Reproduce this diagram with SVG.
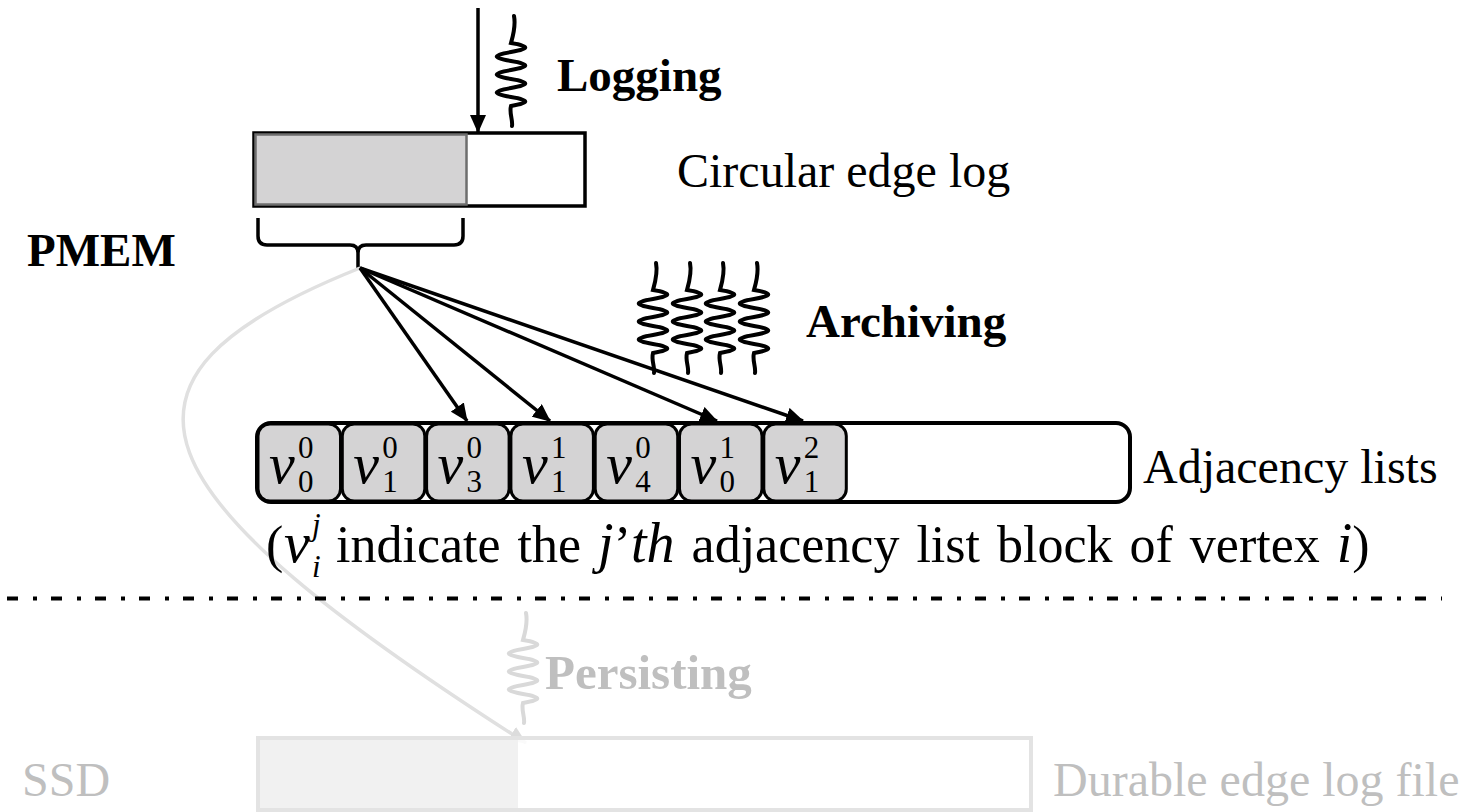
<svg xmlns="http://www.w3.org/2000/svg" xmlns:xlink="http://www.w3.org/1999/xlink" width="1466" height="812" viewBox="0 0 1466 812">
  <style>
    .lbl { font-family: "Liberation Serif", "Times New Roman", serif; font-size: 48px; fill: #000; }
    .bold { font-weight: bold; font-size: 47px; }
    .faint { fill: #bfbfbf; }
    .note { font-size: 52px; word-spacing: 4px; }
    .math { font-family: "Liberation Serif", "Times New Roman", serif; font-style: italic; fill: #000; }
    .digit { font-family: "Liberation Serif", "Times New Roman", serif; font-size: 31px; fill: #000; }
    .edge { fill: none; stroke: #000; stroke-width: 3.5; }
    .spring { fill: none; stroke: #000; stroke-width: 4; stroke-linecap: round; }
    .cell { fill: #d4d3d4; stroke: #000; stroke-width: 3; }
  </style>
  <defs>
    <marker id="arrow" viewBox="0 0 18 16" refX="17" refY="8" markerWidth="18" markerHeight="16" markerUnits="userSpaceOnUse" orient="auto">
      <path d="M0,0 L18,8 L0,16 z" fill="#000"/>
    </marker>
    <marker id="arrowFaint" viewBox="0 0 18 16" refX="17" refY="8" markerWidth="18" markerHeight="16" markerUnits="userSpaceOnUse" orient="auto">
      <path d="M0,0 L18,8 L0,16 z" fill="#dcdcdc"/>
    </marker>
    <!-- wavy "thread" glyph: tail, seven half-waves, tail -->
    <path id="spring" d="M3 0 C5 10 2 20 0 27 c19 3 19 6 0 9 c-19 3 -19 6 0 9 c19 3 19 6 0 9 c-19 3 -19 6 0 9 c19 3 19 6 0 9 c-19 3 -19 6 0 9 c19 3 19 6 0 9 c-2 7 2 14 1 20"/>
  </defs>

  <!-- PMEM side -->
  <g id="pmem-label">
    <text class="lbl bold" x="27" y="266">PMEM</text>
  </g>

  <g id="circular-log">
    <rect x="254" y="133" width="331" height="73" fill="#fff" stroke="#000" stroke-width="3.5"/>
    <rect x="255.5" y="134.5" width="211" height="70" fill="#d4d3d4" stroke="#6e6e6e" stroke-width="2.5"/>
    <text class="lbl" x="677" y="187">Circular edge log</text>
  </g>

  <g id="logging">
    <use xlink:href="#spring" class="spring" transform="translate(511,16)"/>
    <text class="lbl bold" x="557" y="91">Logging</text>
  </g>

  <g id="archiving">
    <use xlink:href="#spring" class="spring" transform="translate(653,263)"/>
    <use xlink:href="#spring" class="spring" transform="translate(687,263)"/>
    <use xlink:href="#spring" class="spring" transform="translate(720,263)"/>
    <use xlink:href="#spring" class="spring" transform="translate(754,263)"/>
    <text class="lbl bold" x="806" y="337">Archiving</text>
  </g>

  <g id="brace">
    <path class="edge" d="M258 218 V236 Q258 245 267 245 H350 Q358 245 358 253 V268 M358 253 Q358 245 366 245 H454 Q463 245 463 236 V218"/>
  </g>

  <!-- durable copy on SSD, drawn before the log so the box covers the arrow tip -->
  <g id="persist-connector">
    <path d="M360 268 C80 380 130 490 526 743" fill="none" stroke="#e0e0e0" stroke-width="3.5" marker-end="url(#arrowFaint)"/>
  </g>

  <g id="adjacency-lists">
    <rect x="257" y="423" width="873" height="79" rx="14" fill="#fff" stroke="#000" stroke-width="4"/>
    <rect class="cell" x="258" y="424" width="82.5" height="77" rx="12"/>
    <rect class="cell" x="342.3" y="424" width="82.5" height="77" rx="12"/>
    <rect class="cell" x="426.6" y="424" width="82.5" height="77" rx="12"/>
    <rect class="cell" x="510.9" y="424" width="82.5" height="77" rx="12"/>
    <rect class="cell" x="595.2" y="424" width="82.5" height="77" rx="12"/>
    <rect class="cell" x="679.5" y="424" width="82.5" height="77" rx="12"/>
    <rect class="cell" x="763.8" y="424" width="82.5" height="77" rx="12"/>
    <g font-size="58">
      <text class="math" x="269" y="483">v</text>
      <text class="math" x="353.3" y="483">v</text>
      <text class="math" x="437.6" y="483">v</text>
      <text class="math" x="521.9" y="483">v</text>
      <text class="math" x="606.2" y="483">v</text>
      <text class="math" x="690.5" y="483">v</text>
      <text class="math" x="774.8" y="483">v</text>
    </g>
    <text class="digit"><tspan x="298" y="458">0</tspan><tspan x="298" y="492">0</tspan></text>
    <text class="digit"><tspan x="382.3" y="458">0</tspan><tspan x="382.3" y="492">1</tspan></text>
    <text class="digit"><tspan x="466.6" y="458">0</tspan><tspan x="466.6" y="492">3</tspan></text>
    <text class="digit"><tspan x="550.9" y="458">1</tspan><tspan x="550.9" y="492">1</tspan></text>
    <text class="digit"><tspan x="635.2" y="458">0</tspan><tspan x="635.2" y="492">4</tspan></text>
    <text class="digit"><tspan x="719.5" y="458">1</tspan><tspan x="719.5" y="492">0</tspan></text>
    <text class="digit"><tspan x="803.8" y="458">2</tspan><tspan x="803.8" y="492">1</tspan></text>
    <text class="lbl" x="1143" y="483">Adjacency lists</text>
  </g>

  <g id="legend">
    <text class="lbl note" x="266" y="562">(</text>
    <text class="math" x="284" y="562" style="font-size:58px">v</text>
    <text class="math" style="font-size:31px"><tspan x="312" y="535">j</tspan><tspan x="312" y="577">i</tspan></text>
    <text class="lbl note" x="336" y="562">indicate the <tspan style="font-style:italic;font-size:56px">j</tspan>’<tspan style="font-style:italic;font-size:56px">th</tspan> adjacency list block of vertex <tspan style="font-style:italic;font-size:56px">i</tspan>)</text>
  </g>

  <g id="archive-connectors">
    <line class="edge" x1="360" y1="268" x2="467" y2="421" marker-end="url(#arrow)"/>
    <line class="edge" x1="360" y1="268" x2="550" y2="421" marker-end="url(#arrow)"/>
    <line class="edge" x1="360" y1="268" x2="717" y2="421" marker-end="url(#arrow)"/>
    <line class="edge" x1="360" y1="268" x2="803" y2="421" marker-end="url(#arrow)"/>
    <line class="edge" x1="478" y1="8" x2="478" y2="132" marker-end="url(#arrow)"/>
  </g>

  <!-- PMEM / SSD boundary -->
  <line x1="7" y1="598.5" x2="1442" y2="598.5" stroke="#000" stroke-width="4" stroke-dasharray="11 15 4 14"/>

  <!-- SSD side -->
  <g id="ssd-label">
    <text class="lbl faint" x="22" y="796">SSD</text>
  </g>

  <g id="persisting">
    <use xlink:href="#spring" class="spring" style="stroke:#d9d9d9" transform="translate(523,613)"/>
    <text class="lbl bold faint" x="545" y="689" style="font-size:49px">Persisting</text>
  </g>

  <g id="durable-log">
    <rect x="258" y="738" width="773" height="72" fill="#fff" fill-opacity="0.85" stroke="#e3e3e3" stroke-width="4"/>
    <rect x="260" y="740" width="258" height="68" fill="#f1f1f1"/>
    <text class="lbl faint" x="1053" y="796">Durable edge log file</text>
  </g>
</svg>
